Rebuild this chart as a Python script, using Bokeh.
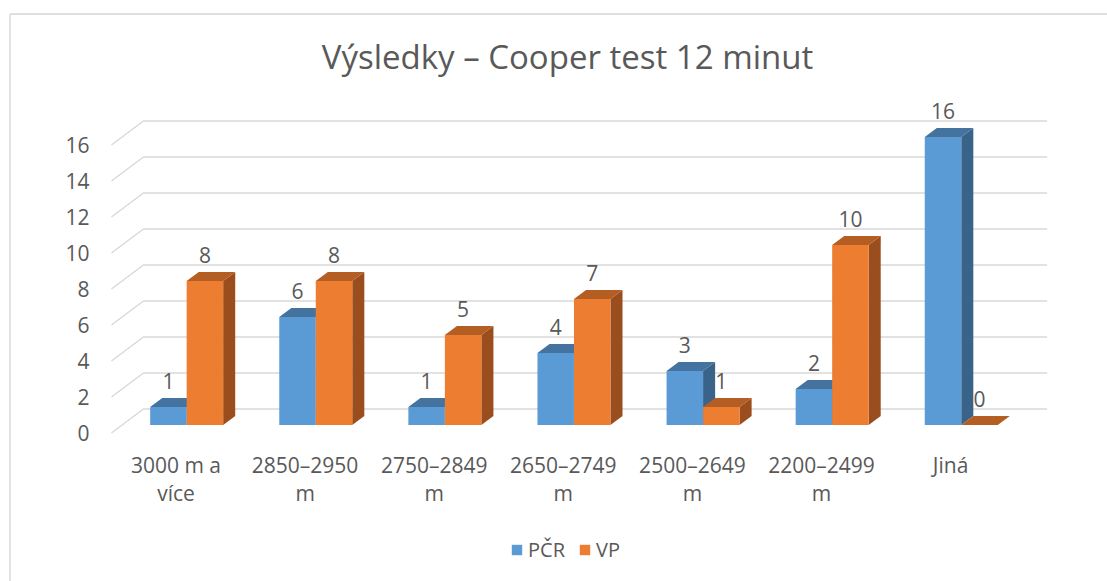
from bokeh.plotting import figure
from bokeh.models import Range1d, Legend, LegendItem, Label
from bokeh.core.properties import value
from bokeh.embed import file_html
from bokeh.resources import INLINE

# ---------------- data ----------------
title_text = "Výsledky – Cooper test 12 minut"
categories = ["3000 m a více", "2850–2950 m", "2750–2849 m", "2650–2749 m",
              "2500–2649 m", "2200–2499 m", "Jiná"]
category_lines = [["3000 m a", "více"], ["2850–2950", "m"], ["2750–2849", "m"],
                  ["2650–2749", "m"], ["2500–2649", "m"], ["2200–2499", "m"], ["Jiná", ""]]
series_names = ["PČR", "VP"]
pcr_values = [1, 6, 1, 4, 3, 2, 16]
vp_values = [8, 8, 5, 7, 1, 10, 0]
y_ticks = [0, 2, 4, 6, 8, 10, 12, 14, 16]

# ---------------- styling / geometry ----------------
W, H = 1107, 581
PX_CAT = 129.1      # pixels per category
PX_UNIT = 18.0      # pixels per value unit
ORIGIN_X = 175.5    # canvas x of first category centre (front plane)
ORIGIN_Y = 432.5    # canvas y of value 0 (front plane)
DEPTH_DX, DEPTH_DY = 32.0, 24.0   # oblique depth offset (px) front -> back wall
BAR_D0, BAR_D1 = 1 / 3, 0.71      # bar depth slice
BAR_PX = 36.5
TEXT = "#595959"
GRID = "#d9d9d9"
FONT = "Open Sans"
TXT_FIX = 8.0       # renderer baseline correction (px) for 21px text
TITLE_FIX = 11.0

blue = dict(front="#5B9BD5", top="#44739F", side="#3A6389")
orange = dict(front="#ED7D31", top="#B55E23", side="#9A4E1D")


def ux(px):
    return px / PX_CAT


def uy(px):
    return px / PX_UNIT


def cx(px):   # canvas x -> data x
    return (px - ORIGIN_X) / PX_CAT


def cy(px):   # canvas y -> data y
    return (ORIGIN_Y - px) / PX_UNIT


x_range = Range1d(cx(0), cx(W))
y_range = Range1d(cy(H), cy(0))

p = figure(width=W, height=H, x_range=x_range, y_range=y_range,
           output_backend="svg", toolbar_location=None,
           x_axis_location=None, y_axis_location=None)
p.min_border = 0
p.outline_line_color = None
p.background_fill_color = "white"
p.border_fill_color = "white"
p.xgrid.visible = False
p.ygrid.visible = False

# chart-area border (left and top edges visible in the crop)
p.segment(x0=[cx(9.5), cx(9.5)], y0=[cy(13.5), cy(13.5)],
          x1=[cx(9.5), cx(W + 5)], y1=[cy(H + 5), cy(13.5)],
          line_color="#d4d4d4", line_width=1.3)

# ---------------- walls / gridlines ----------------
ncat = len(categories)
gx, gy = [], []
for v in y_ticks:
    x0 = -0.5
    xb = x0 + ux(DEPTH_DX)
    yb = v + uy(DEPTH_DY)
    gx.append([x0, xb, (ncat - 0.5) + ux(DEPTH_DX)])
    gy.append([v, yb, yb])
p.multi_line(gx, gy, line_color=GRID, line_width=1.5)

# ---------------- 3D bars ----------------
bw = ux(BAR_PX)
ddx = ux(DEPTH_DX * (BAR_D1 - BAR_D0))
ddy = uy(DEPTH_DY * (BAR_D1 - BAR_D0))
base = uy(DEPTH_DY * BAR_D0)
shift = ux(DEPTH_DX * BAR_D0)

front_renderers = []
label_x, label_y, label_t = [], [], []
for s, (vals, col) in enumerate([(pcr_values, blue), (vp_values, orange)]):
    fl, fr, fb, ft = [], [], [], []
    tx, ty, sx, sy = [], [], [], []
    for i, v in enumerate(vals):
        l = i + shift + (s - 1) * bw
        r = l + bw
        top = base + v
        fl.append(l); fr.append(r); fb.append(base); ft.append(top)
        tx.append([l, r, r + ddx, l + ddx]); ty.append([top, top, top + ddy, top + ddy])
        sx.append([r, r + ddx, r + ddx, r]); sy.append([base, base + ddy, top + ddy, top])
        label_x.append(l + bw / 2); label_y.append(top + uy(18 + TXT_FIX)); label_t.append(str(v))
    p.patches(sx, sy, fill_color=col["side"], line_color=None)
    p.patches(tx, ty, fill_color=col["top"], line_color=None)
    fr_r = p.quad(left=fl, right=fr, bottom=fb, top=ft, fill_color=col["front"], line_color=None)
    front_renderers.append(fr_r)

# value labels
p.text(x=label_x, y=label_y, text=label_t, text_font=value(FONT), text_font_size="21px",
       text_color=TEXT, text_align="center", text_baseline="alphabetic")

# y tick labels
p.text(x=[cx(89)] * len(y_ticks), y=[v - uy(7.5 - TXT_FIX) for v in y_ticks],
       text=[str(v) for v in y_ticks], text_font=value(FONT), text_font_size="21px",
       text_color=TEXT, text_align="right", text_baseline="alphabetic")

# category labels (two lines)
for k, base_px in enumerate([472, 500]):
    p.text(x=list(range(ncat)), y=[cy(base_px - TXT_FIX)] * ncat, text=[ln[k] for ln in category_lines],
           text_font=value(FONT), text_font_size="21px", text_color=TEXT,
           text_align="center", text_baseline="alphabetic")

# title
p.add_layout(Label(x=cx(567), y=cy(67 - TITLE_FIX), text=title_text,
                   text_font=FONT, text_font_size="33px", text_color=TEXT,
                   text_align="center", text_baseline="alphabetic"))

# legend
legend = Legend(items=[LegendItem(label=series_names[0], renderers=[front_renderers[0]]),
                       LegendItem(label=series_names[1], renderers=[front_renderers[1]])],
                orientation="horizontal", location=(510, 18),
                glyph_width=13, glyph_height=13, label_standoff=5, spacing=13,
                padding=0, margin=0, border_line_color=None, background_fill_alpha=0,
                label_text_font=FONT, label_text_font_size="20px", label_text_color=TEXT)
p.add_layout(legend)

open("out.html", "w").write(file_html(p, INLINE))
